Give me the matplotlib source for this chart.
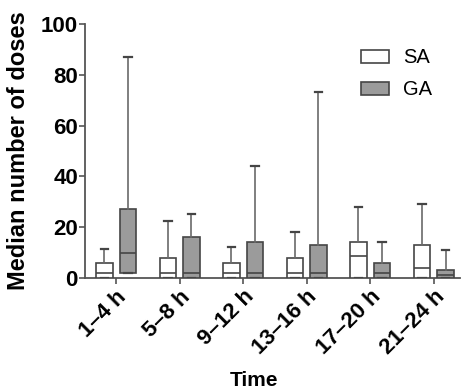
import matplotlib
matplotlib.use("Agg")
import matplotlib.pyplot as plt
from matplotlib.patches import Patch

plt.rcParams["font.family"] = ["Liberation Sans", "DejaVu Sans"]

# time windows
periods = ["1\u20134 h", "5\u20138 h", "9\u201312 h", "13\u201316 h", "17\u201320 h", "21\u201324 h"]

# box stats: (whisker low, q1, median, q3, whisker high)
sa_low = [0, 0, 0, 0, 0, 0]
sa_q1 = [0, 0, 0, 0, 0, 0]
sa_med = [2, 2, 2, 2, 8.5, 4]
sa_q3 = [6, 8, 6, 8, 14, 13]
sa_high = [11.5, 22.5, 12, 18, 28, 29]

ga_low = [2, 0, 0, 0, 0, 0]
ga_q1 = [2, 0, 0, 0, 0, 0]
ga_med = [10, 2, 2, 2, 2, 1.3]
ga_q3 = [27, 16, 14, 13, 6, 3]
ga_high = [87, 25, 44, 73, 14, 11]


def stats(lo, q1, med, q3, hi):
    return [dict(whislo=a, q1=b, med=c, q3=d, whishi=e, fliers=[])
            for a, b, c, d, e in zip(lo, q1, med, q3, hi)]


fig = plt.figure(figsize=(4.64, 3.92), dpi=100)
ax = fig.add_axes([0.183, 0.291, 0.808, 0.648])

edge = "#454545"
wcol = "#6a6a6a"
xs = list(range(len(periods)))
off = 0.185
width = 0.26

for data, pos, fill in [
    (stats(sa_low, sa_q1, sa_med, sa_q3, sa_high), [x - off for x in xs], "white"),
    (stats(ga_low, ga_q1, ga_med, ga_q3, ga_high), [x + off for x in xs], "#9b9b9b"),
]:
    ax.bxp(data, positions=pos, widths=width, showfliers=False, patch_artist=True,
           boxprops=dict(facecolor=fill, edgecolor=edge, linewidth=1.2),
           medianprops=dict(color=edge, linewidth=1.2),
           whiskerprops=dict(color=wcol, linewidth=1.2),
           capprops=dict(color=edge, linewidth=1.6),
           capwidths=width * 0.45, zorder=3)

ax.set_xlim(-0.49, 5.41)
ax.set_ylim(0, 100)
ax.set_yticks([0, 20, 40, 60, 80, 100])
ax.set_xticks(xs)
ax.set_xticklabels(periods, rotation=45, ha="right", rotation_mode="anchor")
for lab in ax.get_xticklabels() + ax.get_yticklabels():
    lab.set_fontweight("bold")
    lab.set_fontsize(16)
ax.tick_params(axis="both", length=4, width=1.2, color="#555555", pad=2)
ax.tick_params(axis="y", pad=1)

for s in ["top", "right"]:
    ax.spines[s].set_visible(False)
for s in ["left", "bottom"]:
    ax.spines[s].set_color("#555555")
    ax.spines[s].set_linewidth(1.3)

ax.set_ylabel("Median number of doses", fontsize=17, fontweight="bold", labelpad=8)
ax.set_xlabel("Time", fontsize=15, fontweight="bold")
ax.xaxis.set_label_coords(0.45, -0.365)

handles = [Patch(facecolor="white", edgecolor=edge, linewidth=1.2, label="SA"),
           Patch(facecolor="#9b9b9b", edgecolor=edge, linewidth=1.2, label="GA")]
ax.legend(handles=handles, loc="upper right", bbox_to_anchor=(0.975, 0.975),
          frameon=False, fontsize=14.5, handlelength=1.4, handleheight=0.6,
          handletextpad=0.7, labelspacing=0.65)

fig.savefig("out.png", dpi=100, facecolor="white")
